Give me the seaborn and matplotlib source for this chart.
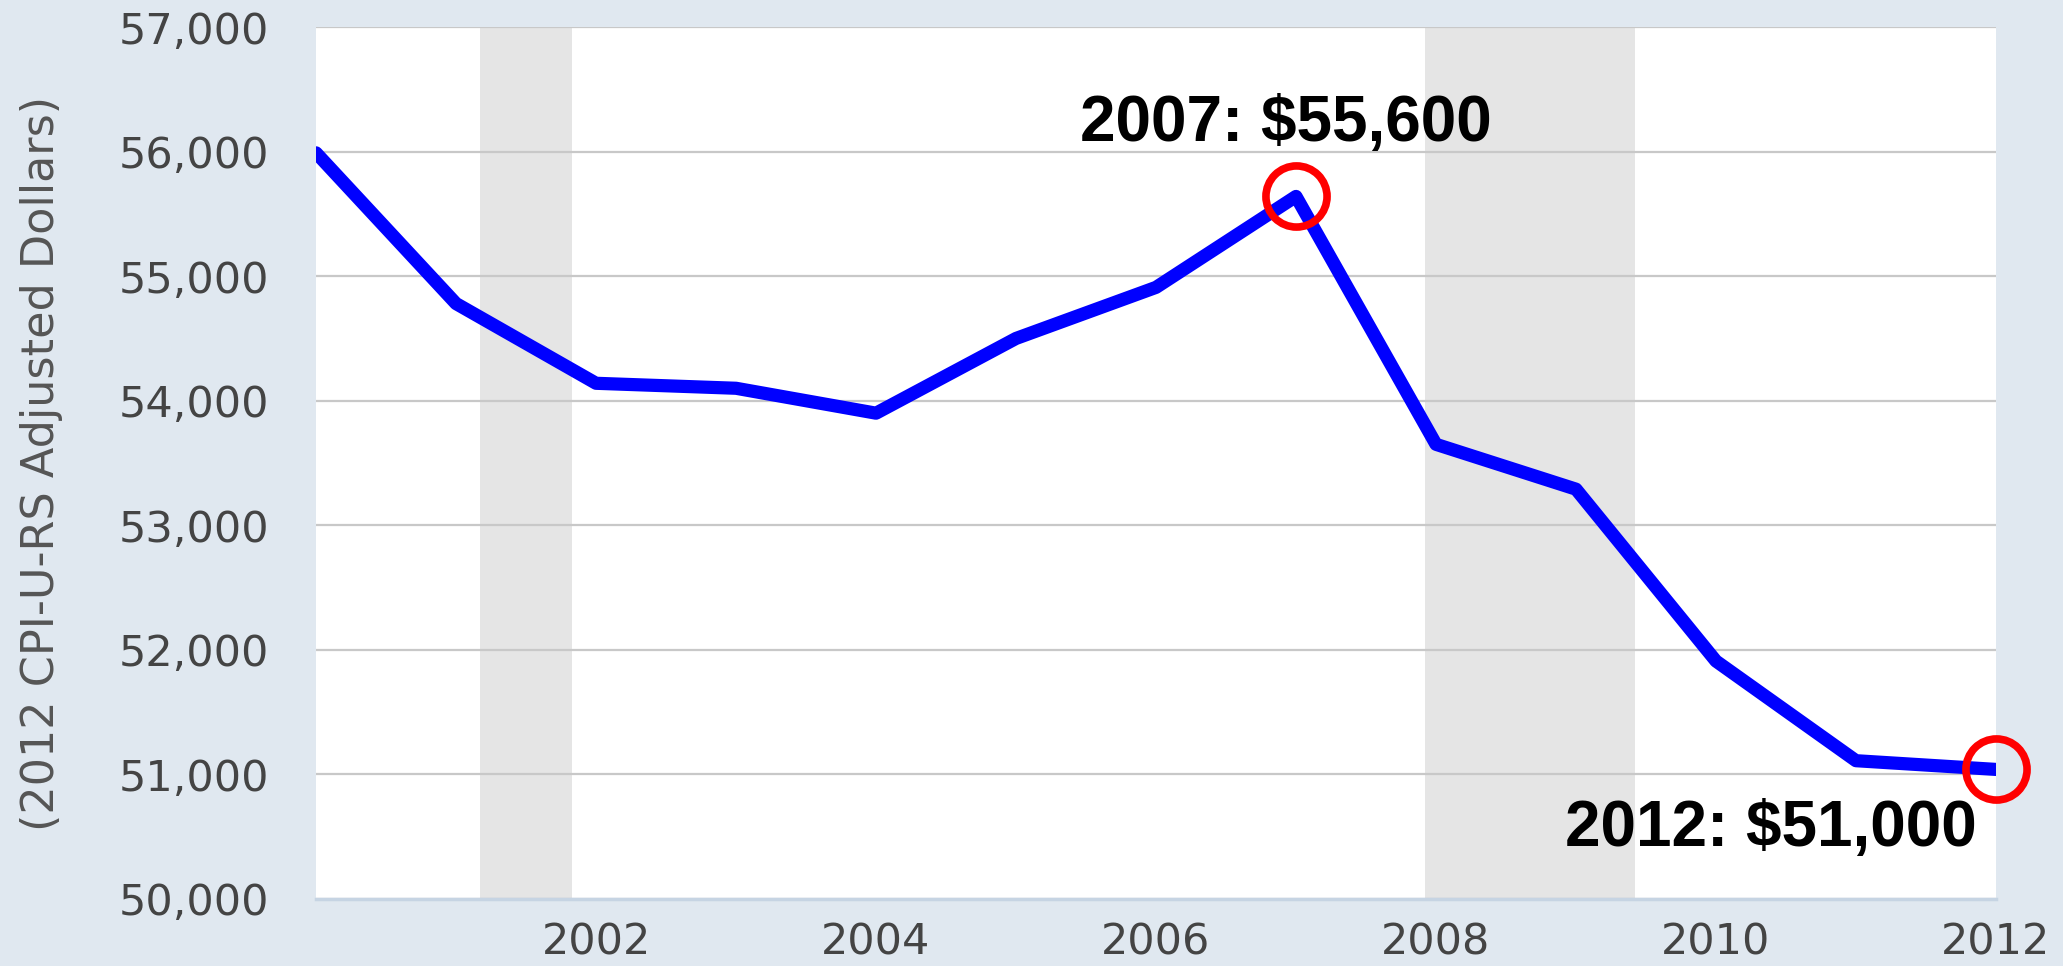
#Median household income line chart, 2000-2012, with recession shading
import pandas as pd
import numpy as np
import matplotlib
matplotlib.use('Agg')
import matplotlib.pyplot as plt
import matplotlib.ticker as mticker
import seaborn as sns

# Data
years = [2000, 2001, 2002, 2003, 2004, 2005, 2006, 2007, 2008, 2009, 2010, 2011, 2012]
income = [55990, 54780, 54140, 54100, 53900, 54500, 54910, 55640, 53650, 53290, 51910, 51110, 51040]

rec_start = [2001.17, 2007.92]
rec_end = [2001.83, 2009.42]

highlight_years = [2007, 2012]
highlight_labels = ['2007: $55,600', '2012: $51,000']

x_ticks = [2002, 2004, 2006, 2008, 2010, 2012]
y_ticks = [50000, 51000, 52000, 53000, 54000, 55000, 56000, 57000]
y_label = '(2012 CPI-U-RS Adjusted Dollars)'

df = pd.DataFrame({'year': years, 'income': income})

sns.set_style('white')
plt.rcParams['font.family'] = ['DejaVu Sans']

bg = '#e0e8f0'
fig = plt.figure(figsize=(20.63, 9.66), dpi=100, facecolor=bg)
ax = fig.add_axes([0.1532, 0.0694, 0.8143, 0.9026])
ax.set_facecolor('white')

# Recession bands
for s, e in zip(rec_start, rec_end):
    ax.axvspan(s, e, color='#e5e5e5', zorder=0.2, lw=0)

sns.lineplot(data=df, x='year', y='income', color='#0000ff', linewidth=9.5, ax=ax, zorder=3)

# Highlight circles
hl = df[df['year'].isin(highlight_years)]
ax.plot(hl['year'], hl['income'], linestyle='none', marker='o', markersize=44,
        markerfacecolor='none', markeredgecolor='#ff0000', markeredgewidth=5.5,
        clip_on=False, zorder=4)

# Annotation texts
ax.text(2006.93, 56220, highlight_labels[0], ha='center', va='center',
        fontsize=46, fontweight='bold', family='Liberation Sans', color='black', zorder=5)
ax.text(2011.86, 50560, highlight_labels[1], ha='right', va='center',
        fontsize=46, fontweight='bold', family='Liberation Sans', color='black', zorder=5)

ax.set_xlim(2000, 2012)
ax.set_ylim(50000, 57000)
ax.set_xticks(x_ticks)
ax.set_xticklabels([str(t) for t in x_ticks])
ax.set_yticks(y_ticks)
ax.yaxis.set_major_formatter(mticker.FuncFormatter(lambda v, p: f'{int(v):,}'))

ax.set_axisbelow(True)
ax.grid(axis='y', color='#c8c8c8', linewidth=1.6)
ax.grid(axis='x', visible=False)

for side in ['top', 'right', 'left']:
    ax.spines[side].set_visible(False)
ax.spines['bottom'].set_color('#c6d4e3')
ax.spines['bottom'].set_linewidth(2.5)

ax.tick_params(axis='y', length=0, pad=34, labelsize=31, labelcolor='#444444')
ax.tick_params(axis='x', length=16, width=1.2, color='#c6d4e3', pad=0,
               labelsize=31, labelcolor='#444444')

ax.set_xlabel('')
ax.set_ylabel(y_label, fontsize=32, color='#555555', labelpad=40)

fig.savefig('out.png', dpi=100, facecolor=bg)
